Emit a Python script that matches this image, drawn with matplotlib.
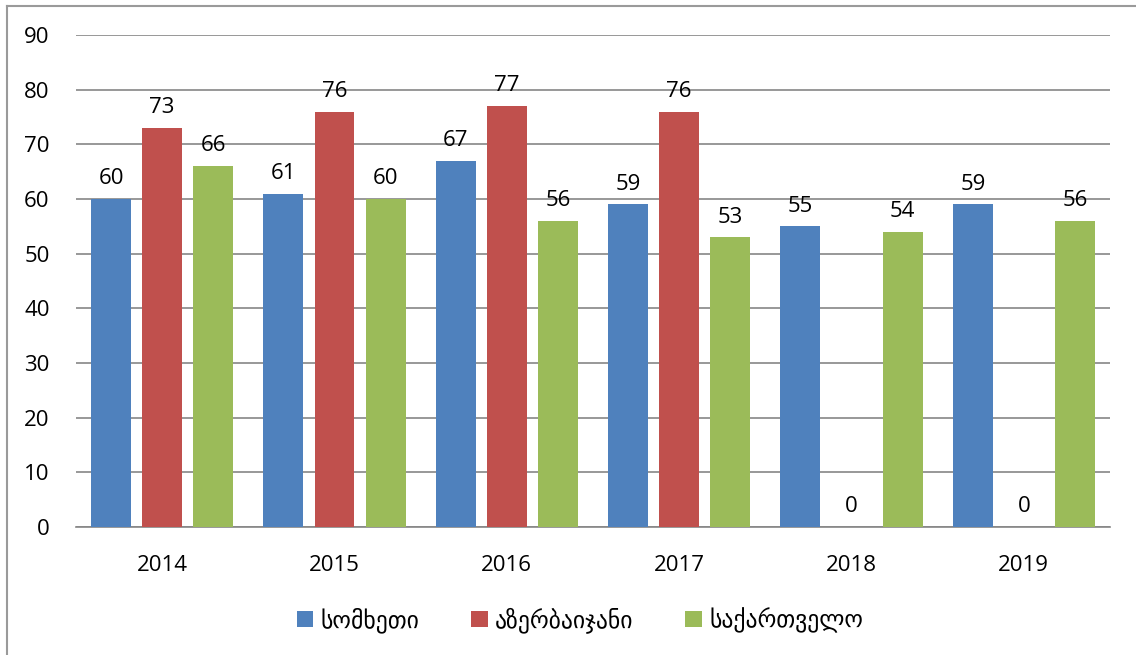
import matplotlib
matplotlib.use("Agg")
import matplotlib.pyplot as plt
import numpy as np
from matplotlib.lines import Line2D

years = ["2014", "2015", "2016", "2017", "2018", "2019"]
series_names = ["სომხეთი", "აზერბაიჯანი", "საქართველო"]
armenia = [60, 61, 67, 59, 55, 59]
azerbaijan = [73, 76, 77, 76, 0, 0]
georgia = [66, 60, 56, 53, 54, 56]
colors = ["#4F81BD", "#C0504D", "#9BBB59"]
yticks = [0, 10, 20, 30, 40, 50, 60, 70, 80, 90]

plt.rcParams['font.family'] = ['Open Sans', 'DejaVu Sans']

fig = plt.figure(figsize=(11.36, 6.55), dpi=100)
ax = fig.add_axes([76/1136, 1-527/655, (1110-76)/1136, (527-35)/655])

x = np.arange(len(years))
width = 0.232
step = 0.296
data = [armenia, azerbaijan, georgia]
for i, (vals, c, name) in enumerate(zip(data, colors, series_names)):
    pos = x + (i - 1) * step
    bars = ax.bar(pos, vals, width=width, color=c, label=name, zorder=3)
    for b, v in zip(bars, vals):
        ax.annotate(str(v), (b.get_x() + b.get_width()/2, v),
                    xytext=(0, 7), textcoords="offset points",
                    ha="center", va="bottom", fontsize=16, color="black")

ax.set_xlim(-0.5, len(years) - 0.5)
ax.set_ylim(0, 90)
ax.set_yticks(yticks)
ax.set_xticks(x)
ax.set_xticklabels(years)
ax.yaxis.grid(True, color="#868686", linewidth=1.2, zorder=0)
for s in ["top", "right", "left"]:
    ax.spines[s].set_visible(False)
ax.spines["bottom"].set_color("#868686")
ax.spines["bottom"].set_linewidth(1.2)
ax.tick_params(axis="both", length=0, labelsize=16, colors="black")
ax.tick_params(axis="y", pad=19)
ax.tick_params(axis="x", pad=20)

leg = fig.legend(loc="center", bbox_to_anchor=(580/1136, 1-620/655), ncol=3,
                 frameon=False, handlelength=0.7, handleheight=0.7,
                 handletextpad=0.3, columnspacing=2.2,
                 prop={'family': ['DejaVu Sans'], 'size': 17})

# outer chart border (left and top edges visible)
fig.add_artist(Line2D([6.5/1136, 6.5/1136], [0, 1-5.5/655], transform=fig.transFigure,
                      color="#9A9A9A", linewidth=1.5))
fig.add_artist(Line2D([6.5/1136, 1], [1-5.5/655, 1-5.5/655], transform=fig.transFigure,
                      color="#9A9A9A", linewidth=1.5))

fig.savefig("out.png", dpi=100)
